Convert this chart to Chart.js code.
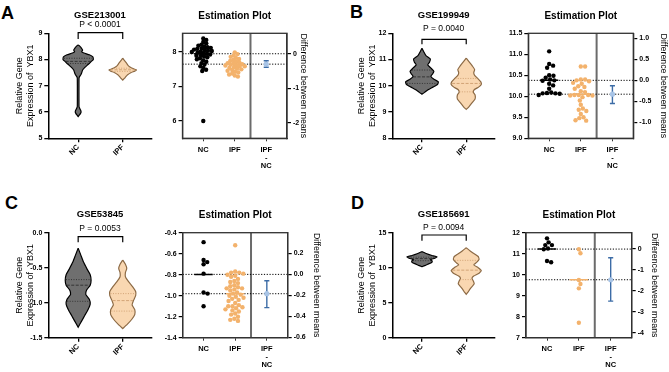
<!DOCTYPE html>
<html lang="en">
<head>
<meta charset="UTF-8">
<title>YBX1 expression in IPF datasets</title>
<script src="https://cdn.jsdelivr.net/npm/chart.js"></script>
<style>
  body { margin: 0; background: #fff; }
  #fig { position: relative; width: 669px; height: 372px; background: #fff; overflow: hidden;
         font-family: Arial, "Liberation Sans", sans-serif; }
  #fig canvas { position: absolute; }
  .tag { position: absolute; font-weight: bold; font-size: 18px; line-height: 18px; }
</style>
</head>
<body>
<div id="fig">
  <div class="tag" style="left:1px;top:4px">A</div>
  <div class="tag" style="left:350px;top:3px">B</div>
  <div class="tag" style="left:5px;top:194px">C</div>
  <div class="tag" style="left:351px;top:194px">D</div>
</div>
<script>
// ---- data ----
const groups = ['NC', 'IPF'];
const estLabels = [['NC'], ['IPF'], ['IPF', '-', 'NC']];
const datasets = ['GSE213001', 'GSE199949', 'GSE53845', 'GSE185691'];
const pValues = ['P < 0.0001', 'P = 0.0040', 'P = 0.0053', 'P = 0.0094'];

// A  GSE213001
const ncA = [8.38, 8.34, 8.28, 8.24, 8.20, 8.17, 8.15, 8.13, 8.11, 8.09, 8.08, 8.06, 8.05, 8.03, 8.02, 8.00, 7.99, 7.97,
             7.96, 7.94, 7.92, 7.90, 7.88, 7.86, 7.84, 7.81, 7.78, 7.75, 7.71, 7.67, 7.63, 7.58, 7.53, 7.48, 7.44, 6.00];
const ipfA = [7.98, 7.93, 7.89, 7.85, 7.82, 7.79, 7.76, 7.73, 7.71, 7.69, 7.67, 7.65, 7.64, 7.62, 7.61, 7.60, 7.58, 7.57,
              7.55, 7.53, 7.51, 7.49, 7.47, 7.45, 7.42, 7.40, 7.37, 7.34, 7.31, 7.28];
const meansA = [7.94, 7.64];          // NC mean, IPF mean
const diffA = [-0.30, -0.39, -0.20];  // IPF - NC, CI low, CI high
const vNcYA = [8.56, 8.5, 8.42, 8.36, 8.3, 8.25, 8.18, 8.1, 8.0, 7.92, 7.85, 7.78, 7.7, 7.6, 7.5, 7.42, 7.36, 7.3, 7.0, 6.5, 6.2, 6.12, 6.05, 6.0, 5.94, 5.88, 5.83];
const vNcWA = [0, .04, .08, .1, .08, .13, .25, .33, .34, .29, .25, .2, .15, .1, .08, .06, .035, .02, .018, .018, .02, .04, .06, .065, .05, .025, 0];
const vIpfYA = [8.05, 7.95, 7.85, 7.75, 7.68, 7.62, 7.6, 7.56, 7.5, 7.42, 7.35, 7.28, 7.22];
const vIpfWA = [0, .045, .09, .135, .2, .29, .31, .27, .18, .11, .07, .035, 0];
const qNcA = [7.85, 7.93, 8.05];
const qIpfA = [7.55, 7.61, 7.67];
const ticksA = ['5', '6', '7', '8', '9'];
const estTicksA = ['6', '7', '8'];
const diffTicksA = ['-2', '-1', '0'];

// B  GSE199949
const ncB = [11.07, 10.77, 10.73, 10.68, 10.50, 10.49, 10.44, 10.40, 10.38, 10.37, 10.30, 10.26, 10.18, 10.08, 10.07,
             10.07, 10.06, 10.03, 10.09];
const ipfB = [10.71, 10.71, 10.40, 10.40, 10.38, 10.36, 10.32, 10.30, 10.24, 10.22, 10.18, 10.12, 10.10, 10.03, 10.03,
              10.03, 10.02, 10.02, 9.98, 9.90, 9.80, 9.71, 9.68, 9.65, 9.58, 9.50, 9.48, 9.43, 9.42];
const meansB = [10.38, 10.05];
const diffB = [-0.33, -0.55, -0.13];
const vNcYB = [11.43, 11.3, 11.15, 11.02, 10.9, 10.8, 10.68, 10.55, 10.45, 10.36, 10.25, 10.15, 10.05, 9.95, 9.85, 9.75, 9.68];
const vNcWB = [0, .04, .09, .19, .17, .13, .2, .27, .24, .2, .27, .37, .35, .25, .14, .06, 0];
const vIpfYB = [11.05, 10.9, 10.75, 10.62, 10.5, 10.4, 10.28, 10.15, 10.05, 9.95, 9.85, 9.75, 9.65, 9.5, 9.35, 9.2, 9.1];
const vIpfWB = [0, .07, .14, .19, .17, .19, .26, .33, .34, .28, .18, .16, .2, .2, .13, .06, 0];
const qNcB = [10.09, 10.34, 10.6];
const qIpfB = [9.77, 10.09, 10.28];
const ticksB = ['8', '9', '10', '11', '12'];
const estTicksB = ['9.0', '9.5', '10.0', '10.5', '11.0', '11.5'];
const diffTicksB = ['-1.0', '-0.5', '0.0', '0.5', '1.0'];

// C  GSE53845
const ncC = [-0.49, -0.66, -0.68, -0.70, -0.79, -0.97, -0.98, -1.10];
const ipfC = [-0.52, -0.77, -0.78, -0.78, -0.79, -0.80, -0.81, -0.82, -0.84, -0.86, -0.87, -0.88, -0.90, -0.91, -0.92,
              -0.93, -0.93, -0.94, -0.95, -0.97, -0.98, -0.99, -1.00, -1.01, -1.02, -1.03, -1.04, -1.05, -1.07, -1.09,
              -1.10, -1.10, -1.11, -1.12, -1.13, -1.14, -1.15, -1.17, -1.18, -1.20, -1.22, -1.23, -1.24];
const meansC = [-0.797, -0.981];
const diffC = [-0.184, -0.317, -0.06];
const vNcYC = [-0.22, -0.32, -0.42, -0.52, -0.6, -0.68, -0.75, -0.82, -0.88, -0.95, -1.02, -1.1, -1.18, -1.26, -1.35];
const vNcWC = [0, .06, .12, .2, .27, .29, .27, .19, .17, .25, .27, .22, .15, .08, 0];
const vIpfYC = [-0.39, -0.45, -0.51, -0.57, -0.63, -0.7, -0.77, -0.84, -0.9, -0.97, -1.03, -1.1, -1.17, -1.24, -1.31, -1.37];
const vIpfWC = [0, .06, .09, .06, .06, .13, .22, .29, .29, .24, .21, .27, .27, .2, .1, 0];
const qNcC = [-0.98, -0.75, -0.67];
const qIpfC = [-1.12, -0.97, -0.87];
const ticksC = ['-1.5', '-1.0', '-0.5', '0.0'];
const estTicksC = ['-1.4', '-1.2', '-1.0', '-0.8', '-0.6', '-0.4'];
const diffTicksC = ['-0.6', '-0.4', '-0.2', '0.0', '0.2'];

// D  GSE185691
const ncD = [11.73, 11.54, 11.41, 11.41, 11.25, 11.21, 10.65, 10.59];
const ipfD = [11.21, 11.02, 9.75, 9.56, 9.35, 7.71];
const meansD = [11.22, 9.76];
const diffD = [-1.46, -2.48, -0.41];
const vNcYD = [12.3, 12.0, 11.75, 11.55, 11.35, 11.15, 10.95, 10.75, 10.5, 10.3, 10.15];
const vNcWD = [0, .11, .225, .34, .29, .19, .23, .22, .13, .06, 0];
const vIpfYD = [12.85, 12.4, 12.0, 11.6, 11.2, 10.8, 10.4, 10.0, 9.6, 9.2, 8.8, 8.5, 8.1, 7.7, 7.3, 6.9, 6.5, 6.2];
const vIpfWD = [0, .09, .18, .27, .29, .24, .17, .27, .34, .29, .17, .13, .16, .18, .13, .08, .04, 0];
const qNcD = [11.0, 11.3, 11.5];
const qIpfD = [8.3, 9.65, 11.05];
const ticksD = ['0', '5', '10', '15'];
const estTicksD = ['7', '8', '9', '10', '11', '12'];
const diffTicksD = ['-4', '-3', '-2', '-1', '0'];

// ---- layout of the eight plots ----
const FONT = "Arial, 'Liberation Sans', sans-serif";
Chart.defaults.font.family = FONT;
Chart.defaults.color = '#000';

const violins = [
  { box: [0, 0, 165, 185], area: { l: 48.3, r: 151.7, t: 33.3 }, titleY: 15.7, pY: 24.3, br: [32.7, 6.3],
    y: [5, 9], ticks: ticksA, tPad: 14.6, nc: [vNcYA, vNcWA, qNcA], ipf: [vIpfYA, vIpfWA, qIpfA], i: 0 },
  { box: [330, 0, 170, 185], area: { l: 62.3, r: 165, t: 33.3 }, titleY: 15.7, pY: 28.3, br: [39.3, 5],
    y: [8, 12], ticks: ticksB, tPad: 26.3, nc: [vNcYB, vNcWB, qNcB], ipf: [vIpfYB, vIpfWB, qIpfB], i: 1 },
  { box: [0, 185, 165, 187], area: { l: 48.3, r: 151.7, t: 47.7 }, titleY: 29.3, pY: 43.3, br: [51.7, 5.6],
    y: [-1.5, 0], ticks: ticksC, tPad: 14.6, nc: [vNcYC, vNcWC, qNcC], ipf: [vIpfYC, vIpfWC, qIpfC], i: 2 },
  { box: [330, 185, 170, 187], area: { l: 62.3, r: 165, t: 47.7 }, titleY: 29.3, pY: 42.7, br: [50, 5.7],
    y: [0, 15], ticks: ticksD, tPad: 26.3, nc: [vNcYD, vNcWD, qNcD], ipf: [vIpfYD, vIpfWD, qIpfD], i: 3 }
];
const estimations = [
  { box: [160, 0, 172, 185], area: { l: 22.5, r: 127, t: 33.3 }, titleY: 16, y: [5.5, 8.53],
    ticks: estTicksA, ticks2: diffTicksA, nc: ncA, ipf: ipfA, means: meansA, diff: diffA, gap: 3.3, t2Pad: 23.5 },
  { box: [495, 0, 174, 185], area: { l: 33.3, r: 138.3, t: 33.3 }, titleY: 16, y: [9, 11.5],
    ticks: estTicksB, ticks2: diffTicksB, nc: ncB, ipf: ipfB, means: meansB, diff: diffB, gap: 4.3, t2Pad: 0.7 },
  { box: [160, 185, 172, 187], area: { l: 22.7, r: 127.7, t: 47.7 }, titleY: 30.7, y: [-1.4, -0.4],
    ticks: estTicksC, ticks2: diffTicksC, nc: ncC, ipf: ipfC, means: meansC, diff: diffC, gap: 4.2, t2Pad: 10 },
  { box: [495, 185, 174, 187], area: { l: 31, r: 136.7, t: 47.7 }, titleY: 30.7, y: [7, 12],
    ticks: estTicksD, ticks2: diffTicksD, nc: ncD, ipf: ipfD, means: meansD, diff: diffD, gap: 4.3, t2Pad: 9.7 }
];
const PLOT_H = 105;

// ---- helpers ----
const tickFont = { size: 7, weight: 'bold', family: FONT };
const catFont = { size: 7.5, weight: 'bold', family: FONT, lineHeight: 1.05 };

function makeCanvas(box) {
  const c = document.createElement('canvas');
  c.width = box[2]; c.height = box[3];
  c.style.left = box[0] + 'px'; c.style.top = box[1] + 'px';
  c.style.width = box[2] + 'px'; c.style.height = box[3] + 'px';
  document.getElementById('fig').appendChild(c);
  return c;
}

function tickAxis(list) {
  return {
    afterBuildTicks: s => { s.ticks = list.map(t => ({ value: parseFloat(t) })); },
    ticks: { font: tickFont, color: '#000', padding: 2,
             callback: v => list.find(t => Math.abs(parseFloat(t) - v) < 1e-9) }
  };
}

function outline(center, ys, ws) {
  const right = ys.map((y, k) => ({ x: center + ws[k], y }));
  const left = ys.map((y, k) => ({ x: center - ws[k], y })).reverse();
  return right.concat(left);
}

function widthAt(ys, ws, v) {
  for (let k = 0; k < ys.length - 1; k++) {
    if (v <= ys[k] && v >= ys[k + 1]) {
      const f = (ys[k] - v) / (ys[k] - ys[k + 1]);
      return ws[k] + f * (ws[k + 1] - ws[k]);
    }
  }
  return 0;
}

// simple beeswarm: spread equal-ish values sideways so dots do not sit on each other
function swarm(values, center, pxX, pxY, gap) {
  const idx = values.map((v, k) => k).sort((a, b) => values[b] - values[a]);
  const placed = [];
  const out = new Array(values.length);
  idx.forEach(k => {
    const py = values[k] * pxY;
    const near = placed.filter(p => Math.abs(p.y - py) < gap);
    const cands = [0];
    near.forEach(p => {
      const dx = Math.sqrt(gap * gap - (p.y - py) ** 2);
      cands.push(p.x + dx, p.x - dx);
    });
    cands.sort((a, b) => Math.abs(a) - Math.abs(b));
    const px = cands.find(c => near.every(p => (p.x - c) ** 2 + (p.y - py) ** 2 >= gap * gap - 1e-6));
    placed.push({ x: px, y: py });
    out[k] = { x: center + px / pxX, y: values[k] };
  });
  return out;
}

const bracketPlugin = {
  id: 'bracket',
  afterDraw(chart, args, o) {
    const x = chart.scales.x, ctx = chart.ctx;
    const x1 = x.getPixelForValue(1), x2 = x.getPixelForValue(2);
    ctx.save();
    ctx.strokeStyle = '#000'; ctx.lineWidth = 1.2;
    ctx.beginPath();
    ctx.moveTo(x1, o.y + o.drop); ctx.lineTo(x1, o.y); ctx.lineTo(x2, o.y); ctx.lineTo(x2, o.y + o.drop);
    ctx.stroke();
    ctx.restore();
  }
};

const framePlugin = {
  id: 'frame',
  afterDatasetsDraw(chart) {
    const a = chart.chartArea, ctx = chart.ctx;
    ctx.save();
    ctx.strokeStyle = '#333'; ctx.lineWidth = 1.3;
    ctx.strokeRect(a.left, a.top, a.right - a.left, a.bottom - a.top);
    ctx.restore();
  }
};

function line(points, color, width, dash, order, axis) {
  return { data: points, showLine: true, borderColor: color, borderWidth: width, borderDash: dash || [],
           pointRadius: 0, order: order, yAxisID: axis || 'y' };
}

// ---- violin plots ----
violins.forEach(p => {
  const W = p.box[2], H = p.box[3], a = p.area, bottom = a.t + PLOT_H;
  const ds = [];
  [[p.nc, 1, '#6f6f6f', '#000', '#262626'], [p.ipf, 2, '#f9d7b1', '#8c6a45', '#c89767']].forEach(g => {
    const [ys, ws, q] = g[0], c = g[1];
    ds.push({ data: outline(c, ys, ws), showLine: true, fill: 'shape', backgroundColor: g[2],
              borderColor: g[3], borderWidth: 1.2, pointRadius: 0, tension: 0.15, order: 2 });
    q.forEach((v, k) => {
      const w = widthAt(ys, ws, v) * 0.95;
      ds.push(line([{ x: c - w, y: v }, { x: c + w, y: v }], g[4], 0.8, k === 1 ? [3, 1.5] : [1, 1.5], 1));
    });
  });
  const yAxis = tickAxis(p.ticks);
  new Chart(makeCanvas(p.box), {
    type: 'scatter',
    data: { datasets: ds },
    plugins: [bracketPlugin],
    options: {
      responsive: false, animation: false, events: [], devicePixelRatio: 1,
      layout: { padding: { left: 0, top: 0, bottom: 0, right: W - a.r } },
      plugins: {
        legend: { display: false }, tooltip: { enabled: false },
        title: { display: true, text: datasets[p.i], fullSize: false, color: '#000',
                 font: { size: 9.5, weight: 'bold', lineHeight: 1 },
                 padding: { top: p.titleY - 4.75, bottom: 0 } },
        subtitle: { display: true, text: pValues[p.i], fullSize: false, color: '#000',
                    font: { size: 8.5, lineHeight: 1 },
                    padding: { top: p.pY - 4.25 - (p.titleY + 4.75), bottom: a.t - (p.pY + 4.25) } },
        bracket: { y: p.br[0], drop: p.br[1] }
      },
      scales: {
        x: {
          type: 'linear', min: 0.33, max: 2.65,
          afterFit: s => { s.height = H - bottom; },
          afterBuildTicks: s => { s.ticks = [{ value: 1 }, { value: 2 }]; },
          grid: { drawOnChartArea: false, color: '#000', lineWidth: 1.3, tickLength: 4 },
          border: { color: '#000', width: 1.5 },
          ticks: { autoSkip: false, minRotation: 45, maxRotation: 45, padding: 1, color: '#000', font: catFont,
                   callback: v => groups[Math.round(v) - 1] }
        },
        y: {
          min: p.y[0], max: p.y[1],
          afterFit: s => { s.width = a.l; },
          afterBuildTicks: yAxis.afterBuildTicks,
          ticks: yAxis.ticks,
          grid: { drawOnChartArea: false, color: '#000', lineWidth: 1.3, tickLength: 4 },
          border: { color: '#000', width: 1.5 },
          title: { display: true, text: ['Relative Gene', 'Expression of  YBX1'], color: '#000',
                   font: { size: 9, lineHeight: 1.2 }, padding: { top: p.tPad, bottom: 0 } }
        }
      }
    }
  });
});

// ---- estimation plots ----
estimations.forEach(p => {
  const W = p.box[2], H = p.box[3], a = p.area, bottom = a.t + PLOT_H;
  const xMin = 0.34, xMax = 3.66;
  const pxX = (a.r - a.l) / (xMax - xMin), pxY = PLOT_H / (p.y[1] - p.y[0]);
  const [mNc, mIpf] = p.means;
  const [dMean, dLo, dHi] = p.diff;
  const cap = 0.08, bar = 0.29;
  const ds = [
    { data: swarm(p.nc, 1, pxX, pxY, p.gap), pointRadius: 2.2, backgroundColor: '#000', borderWidth: 0, order: 1 },
    { data: swarm(p.ipf, 2, pxX, pxY, p.gap), pointRadius: 2.2, backgroundColor: '#f3b26c', borderWidth: 0, order: 1 },
    line([{ x: 1 - bar, y: mNc }, { x: 1 + bar, y: mNc }], '#000', 1.5, null, 2),
    line([{ x: 2 - bar, y: mIpf }, { x: 2 + bar, y: mIpf }], '#f3b26c', 1.5, null, 2),
    line([{ x: xMin, y: mNc }, { x: xMax, y: mNc }], '#000', 1, [1.2, 1.6], 3),
    line([{ x: xMin, y: mIpf }, { x: xMax, y: mIpf }], '#000', 1, [1.2, 1.6], 3),
    line([{ x: 2.5, y: p.y[0] }, { x: 2.5, y: p.y[1] }], '#6b6b6b', 2, null, 3),
    line([{ x: 3 - cap, y: dLo }, { x: 3 + cap, y: dLo }, { x: 3, y: dLo }, { x: 3, y: dHi },
          { x: 3 - cap, y: dHi }, { x: 3 + cap, y: dHi }], '#3c6ca6', 1.4, null, 1, 'y2'),
    { data: [{ x: 3, y: dMean }], pointRadius: 2.6, backgroundColor: '#a8c4e6', borderWidth: 0, order: 0, yAxisID: 'y2' }
  ];
  const yAxis = tickAxis(p.ticks), y2Axis = tickAxis(p.ticks2);
  new Chart(makeCanvas(p.box), {
    type: 'scatter',
    data: { datasets: ds },
    plugins: [framePlugin],
    options: {
      responsive: false, animation: false, events: [], devicePixelRatio: 1,
      layout: { padding: 0 },
      plugins: {
        legend: { display: false }, tooltip: { enabled: false },
        title: { display: true, text: 'Estimation Plot', fullSize: false, color: '#000',
                 font: { size: 10, weight: 'bold', lineHeight: 1 },
                 padding: { top: p.titleY - 5, bottom: a.t - (p.titleY + 5) } }
      },
      scales: {
        x: {
          type: 'linear', min: xMin, max: xMax,
          afterFit: s => { s.height = H - bottom; },
          afterBuildTicks: s => { s.ticks = [{ value: 1 }, { value: 2 }, { value: 3 }]; },
          grid: { drawOnChartArea: false, color: '#333', lineWidth: 1, tickLength: 3 },
          border: { color: '#333', width: 1.3 },
          ticks: { autoSkip: false, maxRotation: 0, padding: 4.5, color: '#000', font: catFont,
                   callback: v => estLabels[Math.round(v) - 1] }
        },
        y: {
          min: p.y[0], max: p.y[1],
          afterFit: s => { s.width = a.l; },
          afterBuildTicks: yAxis.afterBuildTicks, ticks: yAxis.ticks,
          grid: { drawOnChartArea: false, color: '#000', lineWidth: 1.2, tickLength: 4 },
          border: { color: '#333', width: 1.3 }
        },
        y2: {
          position: 'right', min: p.y[0] - mNc, max: p.y[1] - mNc,
          afterFit: s => { s.width = W - a.r; },
          afterBuildTicks: y2Axis.afterBuildTicks, ticks: y2Axis.ticks,
          grid: { drawOnChartArea: false, color: '#000', lineWidth: 1.2, tickLength: 4 },
          border: { color: '#333', width: 1.3 },
          title: { display: true, text: 'Difference between means', color: '#000',
                   font: { size: 8.8, lineHeight: 1.2 }, padding: { top: p.t2Pad, bottom: 0 } }
        }
      }
    }
  });
});
</script>
</body>
</html>
